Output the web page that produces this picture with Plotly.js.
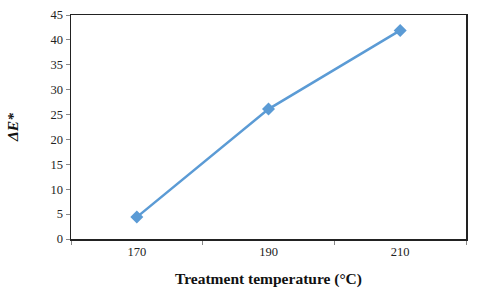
<!DOCTYPE html>
<html><head><meta charset="utf-8">
<script src="https://cdn.plot.ly/plotly-3.0.1.min.js"></script>
<style>body{margin:0;background:#fff}#c{width:480px;height:289px}</style>
</head><body><div id="c"></div>
<script>
const temps = ['170', '190', '210'];
const deltaE = [4.4, 26.1, 41.9];
const yTicks = [0, 5, 10, 15, 20, 25, 30, 35, 40, 45];

Plotly.newPlot('c', [{
  x: temps, y: deltaE, type: 'scatter', mode: 'lines+markers',
  line: {color: '#5B9BD5', width: 2.5},
  marker: {symbol: 'diamond', size: 10, color: '#5B9BD5'}
}], {
  width: 480, height: 289,
  margin: {l: 71, r: 14, t: 15, b: 50},
  paper_bgcolor: '#fff', plot_bgcolor: '#fff',
  font: {family: 'Liberation Serif', size: 12.5, color: '#222'},
  showlegend: false,
  xaxis: {
    type: 'category', range: [-0.5, 2.5], tickson: 'boundaries',
    ticks: 'outside', ticklen: 4, tickcolor: '#888',
    showline: true, linecolor: '#222', linewidth: 1.5, mirror: true,
    showgrid: false, zeroline: false,
    tickfont: {family: 'Liberation Serif', size: 12.5, color: '#222'},
    title: {text: '<b>Treatment temperature (°C)</b>', font: {family: 'Liberation Serif', size: 15.5, color: '#111'}, standoff: 15}
  },
  yaxis: {
    range: [0, 45], tickvals: yTicks,
    ticks: 'outside', ticklen: 4, tickcolor: '#888',
    showline: true, linecolor: '#222', linewidth: 1.5, mirror: true,
    showgrid: false, zeroline: false,
    tickfont: {family: 'Liberation Serif', size: 12.5, color: '#222'},
    title: {text: '<b><i>ΔE*</i></b>', font: {family: 'Liberation Serif', size: 15.5, color: '#111'}, standoff: 28}
  }
}, {staticPlot: true});
</script></body></html>
